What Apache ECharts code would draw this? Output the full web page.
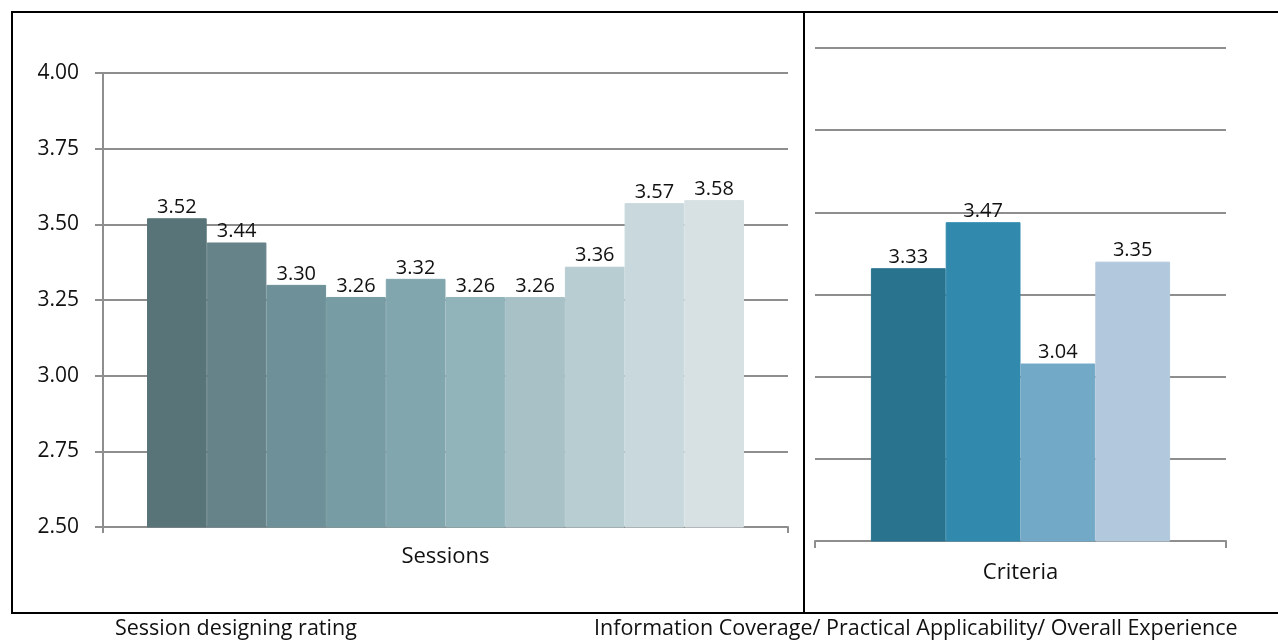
<!DOCTYPE html>
<html>
<head>
<meta charset="utf-8">
<style>
  html, body { margin: 0; padding: 0; background: #fff; }
  #chart { width: 1278px; height: 641px; }
</style>
<script src="https://cdn.jsdelivr.net/npm/echarts@6/dist/echarts.min.js"></script>
</head>
<body>
<div id="chart"></div>
<script>
// left panel: one category, ten sessions
const sessionCategories = ['Sessions']
const sessionNames = ['S1', 'S2', 'S3', 'S4', 'S5', 'S6', 'S7', 'S8', 'S9', 'S10']
const sessionValues = [3.52, 3.44, 3.30, 3.26, 3.32, 3.26, 3.26, 3.36, 3.57, 3.58]
const sessionColors = ['#587479', '#668389', '#6e9098', '#789ca3', '#82a6ae', '#91b3ba', '#a7c1c7', '#b7cdd2', '#c8d8dc', '#d7e0e3']

// right panel: one category, four criteria
const criteriaCategories = ['Criteria']
const criteriaNames = ['Information Coverage', 'Practical Applicability', 'Overall Experience', 'Other']
const criteriaValues = [3.33, 3.47, 3.04, 3.35]
const criteriaColors = ['#29738f', '#318aae', '#72a9c7', '#b2c8dc']

const yMin = 2.5
const yMax = 4.0
const yStep = 0.25

const FONT = 'Open Sans'
const GRID_GRAY = '#8e8e8e'

const chart = echarts.init(document.getElementById('chart'))

function barSeries (names, values, colors, axisIdx, catGap) {
  return names.map((name, i) => ({
    name,
    type: 'bar',
    xAxisIndex: axisIdx,
    yAxisIndex: axisIdx,
    barGap: '0%',
    barCategoryGap: catGap,
    itemStyle: { color: colors[i], borderColor: colors[i], borderWidth: 1 },
    label: {
      show: true,
      position: 'top',
      distance: 1,
      color: '#111',
      fontFamily: FONT,
      fontSize: 20,
      formatter (p) { return p.value.toFixed(2) }
    },
    data: [values[i]]
  }))
}

chart.setOption({
  animation: false,
  backgroundColor: '#fff',
  grid: [
    { left: 103, top: 73, width: 685, height: 454 },
    { left: 815, top: 48, width: 411, height: 493 }
  ],
  xAxis: [{
    type: 'category',
    gridIndex: 0,
    data: sessionCategories,
    axisLine: { lineStyle: { color: GRID_GRAY, width: 2 } },
    axisTick: { show: true, length: 6, lineStyle: { color: GRID_GRAY, width: 2 } },
    axisLabel: { margin: 19, color: '#111', fontFamily: FONT, fontSize: 22 }
  }, {
    type: 'category',
    gridIndex: 1,
    data: criteriaCategories,
    axisLine: { lineStyle: { color: GRID_GRAY, width: 2 } },
    axisTick: { show: true, length: 7, lineStyle: { color: GRID_GRAY, width: 2 } },
    axisLabel: { margin: 21, color: '#111', fontFamily: FONT, fontSize: 22 }
  }],
  yAxis: [{
    type: 'value',
    gridIndex: 0,
    min: yMin,
    max: yMax,
    interval: yStep,
    axisLine: { show: true, lineStyle: { color: GRID_GRAY, width: 2 } },
    axisTick: { show: true, length: 8, lineStyle: { color: GRID_GRAY, width: 2 } },
    splitLine: { show: true, lineStyle: { color: GRID_GRAY, width: 2 } },
    axisLabel: {
      margin: 24,
      color: '#111',
      fontFamily: FONT,
      fontSize: 21,
      formatter (v) { return v.toFixed(2) }
    }
  }, {
    type: 'value',
    gridIndex: 1,
    min: yMin,
    max: yMax,
    interval: yStep,
    axisLine: { show: false },
    axisTick: { show: false },
    axisLabel: { show: false },
    splitLine: { show: true, lineStyle: { color: GRID_GRAY, width: 2 } }
  }],
  series: [
    ...barSeries(sessionNames, sessionValues, sessionColors, 0, '12.85%'),
    ...barSeries(criteriaNames, criteriaValues, criteriaColors, 1, '27.2%')
  ],
  graphic: [
    // panel frames
    { type: 'rect', shape: { x: 12, y: 12, width: 1280, height: 601 }, style: { fill: null, stroke: '#000', lineWidth: 2 }, silent: true },
    { type: 'line', shape: { x1: 804, y1: 12, x2: 804, y2: 613 }, style: { stroke: '#000', lineWidth: 2 }, silent: true },
    // captions under the panels
    { type: 'text', left: 115, top: 618, style: { text: 'Session designing rating', fill: '#111', font: '21.5px "Open Sans"' }, silent: true },
    { type: 'text', left: 594, top: 618, style: { text: 'Information Coverage/ Practical Applicability/ Overall Experience', fill: '#111', font: '21.5px "Open Sans"' }, silent: true }
  ]
})
</script>
</body>
</html>
